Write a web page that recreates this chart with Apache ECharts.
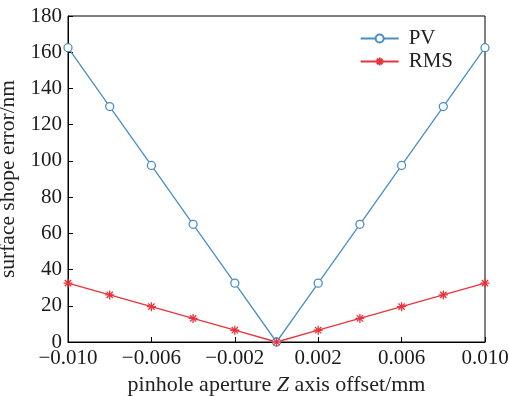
<!DOCTYPE html>
<html><head><meta charset="utf-8">
<script src="https://cdn.jsdelivr.net/npm/echarts@6/dist/echarts.min.js"></script>
<style>html,body{margin:0;padding:0;background:#fff}#c{width:509px;height:396px}</style>
</head><body><div id="c"></div>
<script>
const xValues = [-0.010, -0.008, -0.006, -0.004, -0.002, 0, 0.002, 0.004, 0.006, 0.008, 0.010];
const pvValues = [162.5, 130, 97.5, 65, 32.5, 0, 32.5, 65, 97.5, 130, 162.5];
const rmsValues = [32.5, 26, 19.5, 13, 6.5, 0, 6.5, 13, 19.5, 26, 32.5];
const seriesNames = ['PV', 'RMS'];
const xTitle = 'pinhole aperture ';
const xTitleItalic = 'Z';
const xTitleEnd = ' axis offset/mm';
const yTitle = 'surface shope error/nm';

const font = 'Liberation Serif';
const blue = '#4a8ec4';
const red = '#e8343c';
const star = 'path://M0,5L10,5M5,0L5,10M1.5,1.5L8.5,8.5M8.5,1.5L1.5,8.5';

const chart = echarts.init(document.getElementById('c'), null, {renderer: 'canvas'});
chart.setOption({
  animation: false,
  backgroundColor: '#fff',
  grid: {left: 68, right: 24, top: 16, bottom: 54, show: true, borderColor: '#000', borderWidth: 1,
    backgroundColor: 'transparent', containLabel: false, outerBoundsMode: 'none'},
  legend: {
    right: 51, top: 23, orient: 'vertical', itemWidth: 38, itemHeight: 10, itemGap: 2,
    textStyle: {fontFamily: font, fontSize: 21, color: '#222', padding: [0, 0, 0, 5]},
    data: ['PV', 'RMS']
  },
  xAxis: {
    type: 'value', min: -0.010, max: 0.010, interval: 0.004,
    axisLine: {onZero: false, lineStyle: {color: '#000', width: 1}},
    axisTick: {inside: true, length: 5, lineStyle: {color: '#000'}},
    splitLine: {show: false},
    axisLabel: {fontFamily: font, fontSize: 21, color: '#1a1a1a', margin: 6,
      formatter: v => (Math.abs(v) < 1e-9 ? '0' : (v < 0 ? '\u2212' : '') + Math.abs(v).toFixed(3))},
    name: '{a|' + xTitle + '}{i|' + xTitleItalic + '}{a|' + xTitleEnd + '}',
    nameLocation: 'middle', nameGap: 27,
    nameTextStyle: {rich: {
      a: {fontFamily: font, fontSize: 22, color: '#222'},
      i: {fontFamily: font, fontSize: 22, color: '#222', fontStyle: 'italic'}
    }}
  },
  yAxis: {
    type: 'value', min: 0, max: 180, interval: 20,
    axisLine: {onZero: false, lineStyle: {color: '#000', width: 1}},
    axisTick: {inside: true, length: 5, lineStyle: {color: '#000'}},
    splitLine: {show: false},
    axisLabel: {fontFamily: font, fontSize: 21, color: '#1a1a1a', margin: 6},
    name: yTitle, nameLocation: 'middle', nameGap: 38,
    nameTextStyle: {fontFamily: font, fontSize: 21.5, color: '#222'}
  },
  series: [
    {name: seriesNames[0], type: 'line', data: xValues.map((x, i) => [x, pvValues[i]]),
      symbol: 'circle', symbolSize: 8, showAllSymbol: true,
      lineStyle: {color: blue, width: 1.3},
      itemStyle: {color: '#fff', borderColor: blue, borderWidth: 1.3}},
    {name: seriesNames[1], type: 'line', data: xValues.map((x, i) => [x, rmsValues[i]]),
      symbol: star, symbolSize: 9, showAllSymbol: true,
      lineStyle: {color: red, width: 1.3},
      itemStyle: {color: 'none', borderColor: red, borderWidth: 1.3}}
  ]
});
</script></body></html>
